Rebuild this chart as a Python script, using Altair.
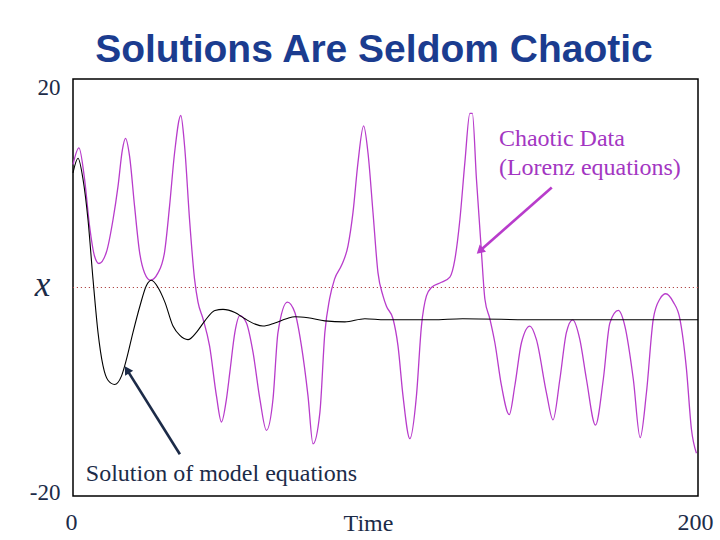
import altair as alt
import pandas as pd

# ---- data ----
lorenz_t = [0, 1.9, 3.7, 5.3, 6.9, 8.3, 10.7, 12.8, 14.4, 15.8, 16.8, 18.1, 19.7, 21.3, 22.9, 24.8,
            27.2, 29.3, 30.9, 32.5, 34.5, 35.7, 37.3, 38.9, 40.0, 41.6, 43.7, 45.9, 47.5, 49.1, 50.2,
            51.8, 53.4, 55.5, 57.6, 59.8, 61.9, 64.0, 65.6, 68.6, 71.0, 73.1, 75.2, 76.8, 79.0, 80.6,
            82.1, 83.7, 85.9, 88.0, 89.6, 91.2, 93.0, 94.4, 96.0, 97.6, 99.2, 100.3, 102.4, 104.0,
            105.6, 107.8, 109.9, 111.5, 113.1, 114.7, 117.9, 120.6, 122.2, 123.8, 125.4, 127.0, 127.8,
            129.1, 130.7, 131.8, 133.4, 135.0, 137.1, 139.6, 141.4, 143.5, 146.2, 148.3, 151.5,
            153.6, 155.8, 157.9, 159.9, 162.2, 164.3, 167.2, 169.7, 171.8, 174.5, 176.6, 179.3, 181.5,
            183.5, 185.7, 187.8, 189.7, 192.1, 194.2, 196.3, 197.9, 199.5]
lorenz_x = [11.8, 13.4, 10.4, 5.9, 3.0, 2.3, 3.4, 6.5, 9.7, 13.2, 14.3, 12.6, 7.8, 3.4, 1.4, 0.7,
            1.4, 3.4, 7.8, 12.9, 16.5, 13.6, 6.5, 0.8, -1.4, -3.0, -5.6, -10.4, -12.9, -10.7, -8.1,
            -4.3, -2.7, -3.4, -6.2, -10.7, -13.7, -10.7, -4.3, -1.4, -2.4, -5.6, -10.4, -15.0, -12.0, -4.3,
            -1.1, 0.8, 2.1, 4.0, 7.2, 12.0, 15.5, 12.9, 7.2, 1.4, -0.8, -1.8, -3.0, -5.6,
            -10.4, -14.5, -10.4, -3.7, -0.8, 0.0, 0.5, 1.0, 2.7, 6.5, 12.0, 16.7, 16.7,
            10.4, 3.4, -1.1, -3.0, -5.3, -9.4, -12.2, -9.4, -5.3, -3.7, -5.0, -10.1,
            -12.7, -8.8, -4.3, -3.1, -5.0, -8.8, -13.2, -8.8, -3.4, -2.2, -3.7, -8.8, -14.4,
            -10.1, -3.0, -1.1, -0.6, -1.4, -3.0, -7.8, -13.6, -15.9]

model_t = [0, 1.6, 3.2, 4.8, 6.4, 8.0, 9.6, 11.2, 13.3, 15.5, 17.1, 19.2, 21.4, 23.5, 25.1, 27.2,
           29.4, 32.0, 34.2, 36.8, 39.5, 42.2, 45.4, 48.0, 51.8, 55.0, 58.2, 60.8, 64.6, 68.3, 71.0,
           75.2, 80.6, 87.0, 93.4, 99.8, 115.1, 124.7, 149.4, 175.0, 200.0]
model_x = [11.0, 12.4, 10.4, 6.5, 0.8, -4.3, -7.5, -8.9, -9.3, -8.5, -6.9, -4.3, -1.8, 0.2, 0.7, 0.0,
           -1.4, -3.7, -4.6, -5.0, -4.3, -3.2, -2.2, -2.1, -2.4, -3.0, -3.5, -3.7, -3.4, -3.0, -2.8,
           -2.9, -3.2, -3.3, -3.0, -3.1, -3.1, -3.0, -3.1, -3.1, -3.1]

label_text = ["Chaotic Data", "(Lorenz equations)", "Solution of model equations"]
label_t = [136.3, 136.3, 4.1]
label_x = [14.2, 11.5, -17.9]

arrow_names = ["chaotic", "model"]
arrow_t1 = [153.2, 34.2]
arrow_x1 = [9.6, -16.0]
arrow_t2 = [130.5, 17.5]
arrow_x2 = [3.6, -8.0]

title_text = ["Solutions Are Seldom Chaotic"]

MAG = "#B83CCB"
TXT_MAG = "#A336C2"
NAVY = "#1C2B48"
TITLE_BLUE = "#1B3C8F"

lorenz = pd.DataFrame({"t": lorenz_t, "x": lorenz_x})
model = pd.DataFrame({"t": model_t, "x": model_x})
labels = pd.DataFrame({"text": label_text, "t": label_t, "x": label_x,
                       "grp": ["chaotic", "chaotic", "model"]})
arrows = pd.DataFrame({"name": arrow_names, "t1": arrow_t1, "x1": arrow_x1,
                       "t2": arrow_t2, "x2": arrow_x2})
titles = pd.DataFrame({"text": title_text})

xs = alt.Scale(domain=[0, 200], nice=False, zero=False)
ys = alt.Scale(domain=[-20, 20], nice=False, zero=False)

x_axis = alt.Axis(values=[0, 200], ticks=False, domain=False, grid=False, title="Time",
                  labelFont="Liberation Serif", labelFontSize=24, labelColor=NAVY,
                  labelPadding=14, labelBaseline="top", labelFlush=False,
                  labelOffset={"condition": {"test": "datum.value > 100", "value": -3}, "value": -2},
                  titleFont="Liberation Serif", titleFontSize=24, titleFontWeight="normal",
                  titleColor=NAVY, titleX=295, titleY=27, titleBaseline="middle",
                  titleAlign="center")
y_axis = alt.Axis(values=[-20, 20], ticks=False, domain=False, grid=False, title="x",
                  labelFont="Liberation Serif", labelFontSize=23, labelColor=NAVY,
                  labelPadding=13, labelFlush=False, labelBaseline="middle",
                  labelOffset={"condition": {"test": "datum.value > 0", "value": 8}, "value": -4},
                  labelExpr="datum.value < 0 ? '-' + abs(datum.value) : datum.label",
                  titleFont="Liberation Serif", titleFontSize=35, titleFontStyle="italic",
                  titleFontWeight="normal", titleColor=NAVY, titleAngle=0,
                  titleX=-31, titleY=205, titleBaseline="middle", titleAlign="center")

base_x = alt.X("t:Q", scale=xs, axis=x_axis)
base_y = alt.Y("x:Q", scale=ys, axis=y_axis)

zero_line = alt.Chart(pd.DataFrame({"x": [0]})).mark_rule(
    color="#B04848", strokeDash=[1.2, 2.8], strokeWidth=1.2
).encode(y=alt.Y("x:Q", scale=ys, axis=y_axis))

lorenz_line = alt.Chart(lorenz).mark_line(color=MAG, strokeWidth=1.3, interpolate="monotone").encode(
    x=base_x, y=base_y)
model_line = alt.Chart(model).mark_line(color="black", strokeWidth=1.1, interpolate="monotone").encode(
    x=base_x, y=base_y)

arrow_color = alt.Color("name:N", scale=alt.Scale(domain=arrow_names, range=[MAG, NAVY]), legend=None)
arrow_lines = alt.Chart(arrows).mark_rule(strokeWidth=2.6).encode(
    x=alt.X("t1:Q", scale=xs), y=alt.Y("x1:Q", scale=ys),
    x2="t2:Q", y2="x2:Q", color=arrow_color)
arrow_heads = alt.Chart(arrows).mark_point(shape="triangle", filled=True, size=90, opacity=1).encode(
    x=alt.X("t2:Q", scale=xs), y=alt.Y("x2:Q", scale=ys),
    color=arrow_color,
    angle=alt.Angle("name:N", scale=alt.Scale(domain=arrow_names, range=[228, 328]), legend=None))

label_marks = alt.Chart(labels).mark_text(
    font="Liberation Serif", fontSize=24, align="left", baseline="middle"
).encode(
    x=alt.X("t:Q", scale=xs), y=alt.Y("x:Q", scale=ys), text="text:N",
    color=alt.Color("grp:N", scale=alt.Scale(domain=["chaotic", "model"], range=[TXT_MAG, NAVY]),
                    legend=None))

title_mark = alt.Chart(titles).mark_text(
    font="Liberation Sans", fontSize=39, fontWeight="bold", color=TITLE_BLUE,
    align="center", baseline="alphabetic"
).encode(x=alt.value(301), y=alt.value(-17), text="text:N")

chart = alt.layer(zero_line, lorenz_line, model_line, arrow_lines, arrow_heads, label_marks,
                  title_mark).properties(
    width=625, height=417,
    autosize=alt.AutoSizeParams(type="none"),
    padding={"left": 73, "top": 79, "right": 22, "bottom": 44},
    background="white",
).configure_view(stroke="black", strokeWidth=1.5).resolve_scale(color="independent", angle="independent")

chart.save("out.html", embed_options={"renderer": "svg", "actions": False})
